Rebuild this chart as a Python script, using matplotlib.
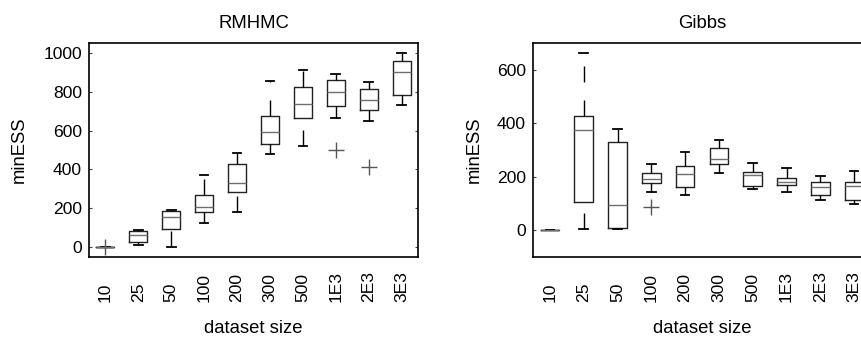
import matplotlib
matplotlib.use("Agg")
import matplotlib.pyplot as plt

plt.rcParams['font.family'] = ['Liberation Sans', 'DejaVu Sans']

sizes = ["10", "25", "50", "100", "200", "300", "500", "1E3", "2E3", "3E3"]

# RMHMC box statistics: (whislo, q1, med, q3, whishi)
rm_lo = [0, 14, 0, 125, 179, 478, 520, 667, 648, 729]
rm_q1 = [0, 26, 94, 181, 283, 529, 664, 727, 705, 785]
rm_med = [0, 65, 154, 208, 329, 592, 737, 800, 756, 901]
rm_q3 = [0, 85, 188, 268, 427, 677, 822, 860, 816, 956]
rm_hi = [0, 90, 190, 369, 486, 855, 913, 889, 850, 1000]
rm_fliers = [[2], [], [], [], [], [], [], [498], [411], []]

# Gibbs box statistics
gb_lo = [0, 5, 5, 142, 131, 213, 153, 144, 114, 100]
gb_q1 = [0, 105, 10, 177, 163, 247, 166, 171, 131, 114]
gb_med = [0, 376, 94, 192, 209, 266, 208, 182, 160, 165]
gb_q3 = [0, 427, 330, 213, 241, 306, 219, 195, 181, 179]
gb_hi = [0, 662, 379, 249, 293, 338, 252, 233, 202, 220]
gb_fliers = [[], [], [], [87], [], [], [], [], [], []]


def make_stats(lo, q1, med, q3, hi, fl):
    return [dict(whislo=a, q1=b, med=c, q3=d, whishi=e, fliers=f, label=s)
            for a, b, c, d, e, f, s in zip(lo, q1, med, q3, hi, fl, sizes)]


fig = plt.figure(figsize=(8.61, 3.38), dpi=100)
ax1 = fig.add_axes([89 / 861, 81 / 338, 329 / 861, 214 / 338])
ax2 = fig.add_axes([533 / 861, 81 / 338, 338 / 861, 214 / 338])

TICK_FS = 12.6
LAB_FS = 13.3


def draw(ax, stats, title, ylim, yticks, xlab_y, ylab_x):
    res = ax.bxp(stats, widths=0.55, capwidths=0.26, showfliers=True,
                 boxprops=dict(color='#222222', linewidth=1.0),
                 medianprops=dict(color='#707070', linewidth=1.0),
                 whiskerprops=dict(color='black', linewidth=1.0,
                                   linestyle=(0, (11.5, 13))),
                 capprops=dict(color='black', linewidth=1.3),
                 flierprops=dict(marker='+', markersize=12,
                                 markeredgecolor='#555555',
                                 markeredgewidth=1.0, linestyle='none'))
    # lower whiskers are drawn from the cap towards the box
    for i, w in enumerate(res['whiskers']):
        if i % 2 == 0:
            xd, yd = w.get_data()
            w.set_data(list(xd)[::-1], list(yd)[::-1])
    ax.set_xlim(0.5, 10.5)
    ax.set_ylim(*ylim)
    ax.set_yticks(yticks)
    ax.set_xticks(range(1, 11))
    ax.set_xticklabels(sizes, rotation=90, fontsize=TICK_FS, va='bottom')
    ax.tick_params(axis='x', length=0, pad=32.5)
    ax.tick_params(axis='y', direction='in', length=2.5, width=0.8,
                   color='#444444', labelsize=TICK_FS, pad=5)
    for sp in ax.spines.values():
        sp.set_linewidth(1.2)
        sp.set_color('black')
    ax.set_title(title, fontsize=LAB_FS, pad=11)
    ax.set_xlabel('dataset size', fontsize=LAB_FS)
    ax.set_ylabel('minESS', fontsize=LAB_FS)
    ax.xaxis.set_label_coords(0.5, xlab_y)
    ax.yaxis.set_label_coords(ylab_x, 0.5)


draw(ax1, make_stats(rm_lo, rm_q1, rm_med, rm_q3, rm_hi, rm_fliers),
     'RMHMC', (-50, 1050), [0, 200, 400, 600, 800, 1000], -0.295, -0.185)
ax1.tick_params(axis='y', right=True)

draw(ax2, make_stats(gb_lo, gb_q1, gb_med, gb_q3, gb_hi, gb_fliers),
     'Gibbs', (-100, 700), [0, 200, 400, 600], -0.295, -0.148)

fig.savefig('out.png', dpi=100)
